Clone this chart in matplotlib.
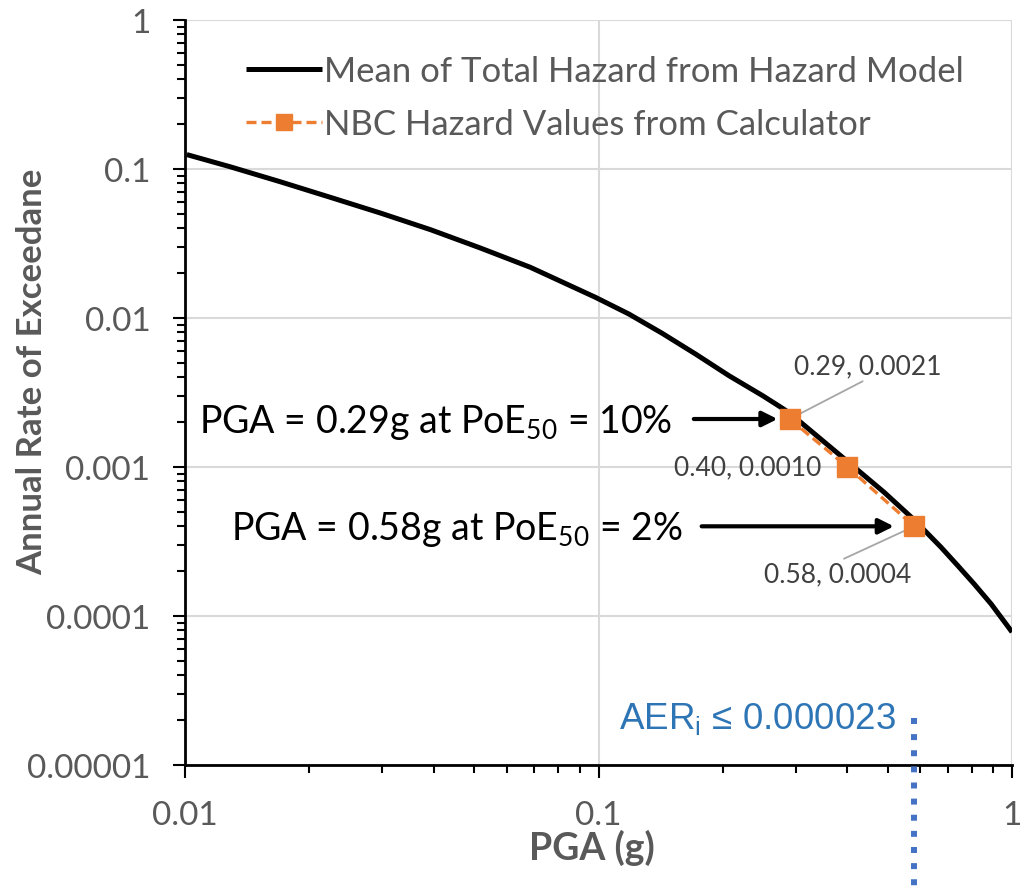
import numpy as np
import matplotlib
matplotlib.use("Agg")
import matplotlib.pyplot as plt

# curve (PGA in g, annual rate of exceedance)
pga_curve = [0.0101, 0.01285, 0.01698, 0.02245, 0.02965, 0.0392, 0.0518, 0.0684, 0.0983,
             0.1184, 0.1426, 0.1717, 0.2068, 0.249, 0.2759, 0.29, 0.40, 0.4908, 0.58,
             0.673, 0.739, 0.810, 0.890, 0.976, 1.0]
aer_curve = [0.125, 0.1036, 0.0822, 0.0646, 0.0507, 0.0392, 0.0295, 0.0219, 0.01377,
             0.01064, 0.00789, 0.00573, 0.00410, 0.00302, 0.00252, 0.0023, 0.00109, 0.000676,
             0.000442, 0.000290, 0.000218, 0.000164, 0.0001205, 0.0000855, 0.0000780]

# NBC calculator points
nbc_pga = [0.29, 0.40, 0.58]
nbc_aer = [0.0021, 0.0010, 0.0004]
nbc_labels = ["0.29, 0.0021", "0.40, 0.0010", "0.58, 0.0004"]

aer_limit = 0.000023
yticks = [1e-5, 1e-4, 1e-3, 1e-2, 1e-1, 1]
ytick_labels = ["0.00001", "0.0001", "0.001", "0.01", "0.1", "1"]
xticks = [0.01, 0.1, 1]
xtick_labels = ["0.01", "0.1", "1"]

orange = "#ED7D31"
gray_txt = "#595959"
plt.rcParams['font.family'] = ['Lato', 'DejaVu Sans']

fig = plt.figure(figsize=(10.33, 8.87), dpi=100)
ax = fig.add_axes([0.1791, 0.1364, 0.8006, 0.8399])
ax.set_xscale('log')
ax.set_yscale('log')
ax.set_xlim(0.01, 1)
ax.set_ylim(1e-5, 1)

ax.plot(pga_curve, aer_curve, color='black', lw=3.6, solid_capstyle='butt', solid_joinstyle='round',
        label='Mean of Total Hazard from Hazard Model', zorder=3)
ax.plot(nbc_pga, nbc_aer, color=orange, lw=2.4, ls=(0, (3, 1.5)), marker='s', ms=15,
        mec=orange, mfc=orange, label='NBC Hazard Values from Calculator', zorder=4)

# data labels with leader lines (text positions in figure pixels from bottom-left)
H = 887
lbl_kw = dict(fontsize=19, color='#404040', textcoords='figure pixels')
lead = dict(arrowstyle='-', color='#A6A6A6', lw=1.3, shrinkA=0, shrinkB=0)
ax.annotate(nbc_labels[0], xy=(nbc_pga[0], nbc_aer[0]), xytext=(868, H - 367),
            ha='center', va='center', arrowprops=dict(relpos=(0.5, 0), **lead), **lbl_kw)
ax.annotate(nbc_labels[1], xy=(nbc_pga[1], nbc_aer[1]), xytext=(821, H - 468),
            ha='right', va='center', **lbl_kw)
ax.annotate(nbc_labels[2], xy=(nbc_pga[2], nbc_aer[2]), xytext=(838, H - 575),
            ha='center', va='center', arrowprops=dict(relpos=(0.5, 1.0), **lead), **lbl_kw)

# arrows + notes
arr = dict(arrowstyle='-|>,head_length=0.9,head_width=0.45', color='black', lw=3, shrinkA=0, shrinkB=0)
ax.annotate("", xy=(0.271, nbc_aer[0]), xytext=(0.170, nbc_aer[0]), arrowprops=arr)
ax.annotate("", xy=(0.518, nbc_aer[2]), xytext=(0.1776, nbc_aer[2]), arrowprops=arr)
ax.text(0.151, 0.00172, r"PGA = 0.29g at PoE$_{\mathregular{50}}$ = 10%", ha='right', va='baseline',
        fontsize=27, color='black')
ax.text(0.160, 0.000329, r"PGA = 0.58g at PoE$_{\mathregular{50}}$ = 2%", ha='right', va='baseline',
        fontsize=27, color='black')

# AER limit line
ax.plot([nbc_pga[2], nbc_pga[2]], [aer_limit * 0.9, 1.5e-6], color='#4472C4', lw=4.3,
        ls=(0, (1, 1.7)), clip_on=False, zorder=5)
ax.text(0.524, 1.75e-5, r"AER$_{\mathregular{i}}$ ≤ 0.000023", ha='right', va='baseline',
        fontsize=26.5, color='#2E75B6', family=['Liberation Sans', 'DejaVu Sans'])

ax.set_yticks(yticks)
ax.set_yticklabels(ytick_labels)
ax.set_xticks(xticks)
ax.set_xticklabels(xtick_labels)
ax.tick_params(which='major', length=9, width=1.5, color='black', labelsize=24, labelcolor=gray_txt, pad=16)
ax.tick_params(which='minor', length=6, width=1.5, color='black')
ax.grid(which='major', color='#D9D9D9', lw=1.5)
ax.set_axisbelow(True)
for s in ['top', 'right']:
    ax.spines[s].set_visible(False)
for s in ['left', 'bottom']:
    ax.spines[s].set_linewidth(2)

ax.set_ylabel('Annual Rate of Exceedane', fontsize=25, fontweight='bold', color=gray_txt)
ax.yaxis.set_label_coords(-0.166, 0.529)
ax.set_xlabel('PGA (g)', fontsize=27, fontweight='bold', color=gray_txt)
ax.xaxis.set_label_coords(0.492, -0.086)

ax.legend(loc='upper left', bbox_to_anchor=(0.036, 0.995), frameon=False, fontsize=25,
          labelcolor=gray_txt, handlelength=2.2, handletextpad=0.05, labelspacing=0.6, markerscale=0.8)

fig.savefig('out.png', dpi=100)
